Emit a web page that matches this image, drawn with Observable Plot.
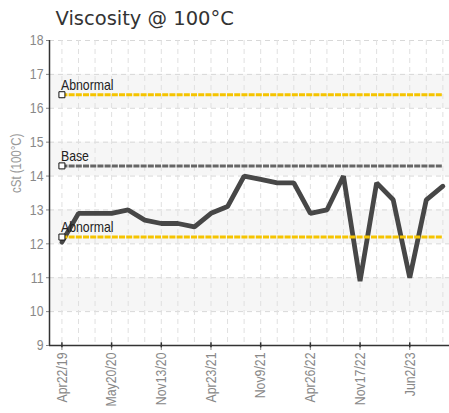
<!DOCTYPE html>
<html><head><meta charset="utf-8">
<script src="https://cdn.jsdelivr.net/npm/d3@7"></script>
<script src="https://cdn.jsdelivr.net/npm/@observablehq/plot@0.6"></script>
<style>
body{margin:0;background:#fff;}
</style></head><body>
<div id="chart"></div>
<script>
const titleText = "Viscosity @ 100°C";
const yLabel = "cSt (100°C)";
const values = [12.05,12.9,12.9,12.9,13.0,12.7,12.6,12.6,12.5,12.9,13.1,14.0,13.9,13.8,13.8,12.9,13.0,14.0,10.9,13.8,13.3,11.0,13.3,13.7];
const tickLabels = ["Apr22/19","May20/20","Nov13/20","Apr23/21","Nov9/21","Apr26/22","Nov17/22","Jun2/23"];
const tickEvery = 3;
const limitLabels = ["Abnormal","Base","Abnormal"];
const limitValues = [16.4,14.3,12.2];
const limitColors = ["#f5c400","#666666","#f5c400"];
const bandLow = [10,12,14,16];
const yTicks = [9,10,11,12,13,14,15,16,17,18];

const idx = values.map((d,i)=>i);
const limits = limitLabels.map((l,i)=>({label:l, value:limitValues[i], color:limitColors[i]}));
const bands = bandLow.map(b=>({y1:b, y2:b+1}));
const tickIdx = tickLabels.map((d,i)=>i*tickEvery);
const font = "'Liberation Sans',Arial,sans-serif";
const last = values.length-1;

const chart = Plot.plot({
  width:449, height:413,
  marginLeft:49, marginRight:0, marginTop:40, marginBottom:68,
  style:{fontFamily:font, background:"#fff"},
  x:{domain:[-0.75, 23.4]},
  y:{domain:[9,18]},
  marks:[
    Plot.rect(bands,{y1:"y1", y2:"y2", fill:"#f6f6f6"}),
    Plot.ruleY(yTicks,{stroke:"#d8d8d8", strokeDasharray:"5,4"}),
    Plot.ruleX(idx,{stroke:"#e0e0e0", strokeDasharray:"5,4"}),
    Plot.axisY({ticks:yTicks, tickSize:3, tickPadding:3, fontSize:15, color:"#888", label:null, tickFormat:d=>d}),
    Plot.axisX({ticks:tickIdx, tickSize:5, tickPadding:2, tickRotate:-90, fontSize:15, color:"#888", label:null, tickFormat:i=>tickLabels[i/tickEvery]}),
    Plot.ruleX(tickIdx,{x:d=>d, y1:8.93, y2:9.08, stroke:"#333", strokeWidth:1.5}),
    Plot.ruleX([-0.75],{stroke:"#333", strokeWidth:1.5}),
    Plot.ruleY([9],{stroke:"#333", strokeWidth:1.5}),
    Plot.line(values,{x:(d,i)=>i, y:d=>d, stroke:"#474747", strokeWidth:4.8, strokeLinejoin:"miter"}),
    Plot.ruleY(limits,{y:"value", x1:0, x2:last, stroke:"color", strokeWidth:3, strokeDasharray:"6,1.2"}),
    Plot.dot(limits,{x:0, y:"value", symbol:"square", r:3.4, fill:"white", stroke:"#111", strokeWidth:1}),
    Plot.text(limits,{x:0, y:"value", text:"label", textAnchor:"start", lineAnchor:"bottom", dy:-5, dx:-1, fontSize:15, fill:"#222"}),
    Plot.text([yLabel],{frameAnchor:"left", dx:-33, rotate:-90, fontSize:14, fill:"#999"}),
    Plot.text([titleText],{frameAnchor:"top-left", dx:6, dy:-16, lineAnchor:"bottom", textAnchor:"start", fontSize:19.5, fill:"#333", fontFamily:"DejaVu Sans"})
  ]
});
document.getElementById("chart").append(chart);
chart.querySelectorAll("text").forEach(t => {
  const len = t.getComputedTextLength();
  if (!(len > 0)) return;
  if (t.textContent === titleText) {
    const ls = Math.max(0, (177 - len) / (titleText.length - 1));
    t.style.letterSpacing = ls.toFixed(2) + "px";
    return;
  }
  // condense texts to mimic a narrow face, keeping their anchor point
  const b0 = t.getBBox();
  t.setAttribute("textLength", (len*0.82).toFixed(2));
  t.setAttribute("lengthAdjust", "spacingAndGlyphs");
  const b1 = t.getBBox();
  const anchor = getComputedStyle(t).textAnchor;
  let shift = 0;
  if (anchor === "end") shift = (b0.x + b0.width) - (b1.x + b1.width);
  else if (anchor === "middle") shift = (b0.x + b0.width/2) - (b1.x + b1.width/2);
  else shift = b0.x - b1.x;
  if (Math.abs(shift) > 0.1) {
    const tr = t.getAttribute("transform") || "";
    t.setAttribute("transform", tr + ` translate(${shift.toFixed(2)},0)`);
  }
});
</script>
</body></html>
